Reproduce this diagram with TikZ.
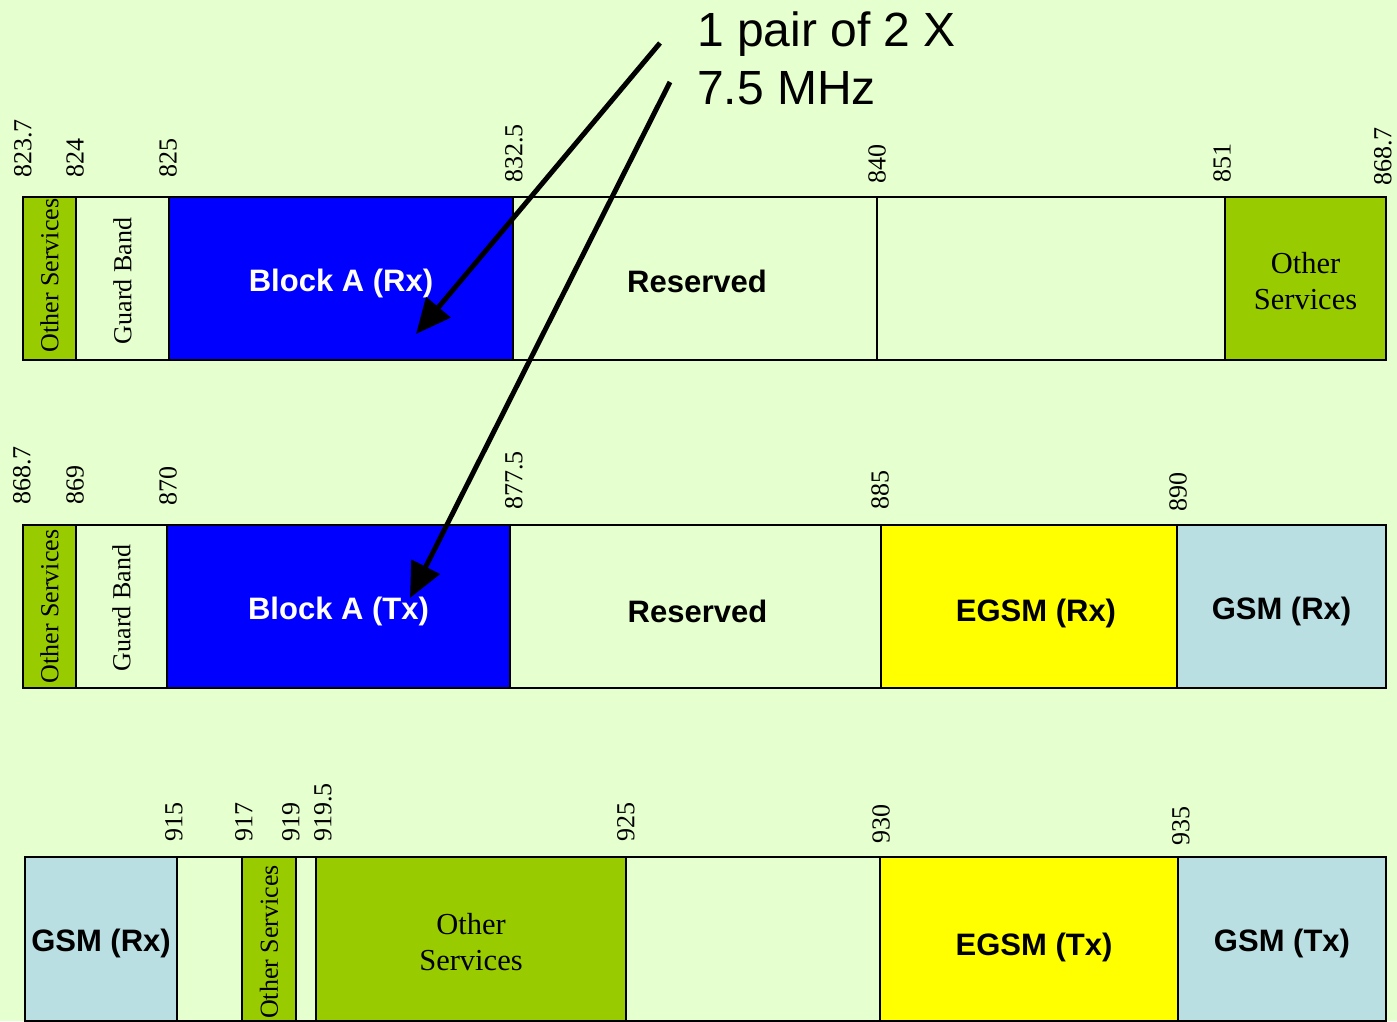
\documentclass[tikz,border=0pt]{standalone}
\usepackage{fontspec}
\setmainfont{Liberation Serif}
\newfontfamily\arialf{Liberation Sans}
\usetikzlibrary{arrows.meta}
\definecolor{bg}{HTML}{E6FFCE}
\definecolor{osgreen}{HTML}{99CC00}
\definecolor{blockblue}{HTML}{0000FF}
\definecolor{egsmyellow}{HTML}{FFFF00}
\definecolor{gsmblue}{HTML}{B9DFE3}
\begin{document}
\begin{tikzpicture}[x=1pt,y=-1pt,
  cell/.style={draw=black, line width=1.6pt, anchor=north west, inner sep=0pt, outer sep=0pt, fill=bg},
  tick/.style={rotate=90, anchor=west, inner sep=0pt, font=\fontsize{26}{26}\selectfont},
  boldlbl/.style={font=\arialf\bfseries\fontsize{31}{31}\selectfont, inner sep=0pt, anchor=base},
  whitelbl/.style={boldlbl, text=white},
  serlbl/.style={font=\fontsize{30.5}{36}\selectfont, align=center, inner sep=0pt},
  vertlbl/.style={rotate=90, font=\fontsize{26}{26}\selectfont, inner sep=0pt},
  bigarrow/.style={line width=5pt, -{Triangle[length=35pt,width=31pt]}}
]
\clip (0,0) rectangle (1397,1021);
\fill[bg] (0,0) rectangle (1397,1021);

% ---------- Row 1 ----------
\node[cell, fill=osgreen, minimum width=53, minimum height=163] (os1) at (23,197) {};
\node[cell, minimum width=93, minimum height=163] (gb1) at (76,197) {};
\node[cell, fill=blockblue, minimum width=344, minimum height=163] (ba1) at (169,197) {};
\node[cell, minimum width=364, minimum height=163] (rs1) at (513,197) {};
\node[cell, minimum width=348, minimum height=163] (em1) at (877,197) {};
\node[cell, fill=osgreen, minimum width=161, minimum height=163] (ot1) at (1225,197) {};

\node[vertlbl] (os1t) at ([yshift=3]os1.center) {Other Services};
\node[vertlbl] (gb1t) at ([yshift=-2.5]gb1.center) {Guard Band};
\node[whitelbl] (ba1t) at ([yshift=-12.5]ba1.center) {Block A (Rx)};
\node[boldlbl] (rs1t) at ([xshift=2,yshift=-13.5]rs1.center) {Reserved};
\node[serlbl] (ot1t) at ([yshift=-3]ot1.center) {Other\\Services};

\foreach \px/\py/\t [count=\i] in {23/178/823.7, 75/178/824, 168/178/825, 514/183/832.5, 877/184/840, 1222/183/851, 1383/186/868.7}
  \node[tick] (ta\i) at (\px,\py) {\t};

% ---------- Row 2 ----------
\node[cell, fill=osgreen, minimum width=53, minimum height=163] (os2) at (23,525) {};
\node[cell, minimum width=91, minimum height=163] (gb2) at (76,525) {};
\node[cell, fill=blockblue, minimum width=343, minimum height=163] (ba2) at (167,525) {};
\node[cell, minimum width=371, minimum height=163] (rs2) at (510,525) {};
\node[cell, fill=egsmyellow, minimum width=296, minimum height=163] (eg2) at (881,525) {};
\node[cell, fill=gsmblue, minimum width=209, minimum height=163] (gs2) at (1177,525) {};

\node[vertlbl] (os2t) at (os2.center) {Other Services};
\node[vertlbl] (gb2t) at ([yshift=-1.5]gb2.center) {Guard Band};
\node[whitelbl] (ba2t) at ([yshift=-12.5]ba2.center) {Block A (Tx)};
\node[boldlbl] (rs2t) at ([xshift=2,yshift=-15.5]rs2.center) {Reserved};
\node[boldlbl] (eg2t) at ([xshift=7,yshift=-14.5]eg2.center) {EGSM (Rx)};
\node[boldlbl] (gs2t) at ([yshift=-12.5]gs2.center) {GSM (Rx)};

\foreach \px/\py/\t [count=\i] in {22/505/868.7, 75/505/869, 168/506/870, 514/510/877.5, 880/510/885, 1178/512/890}
  \node[tick] (tb\i) at (\px,\py) {\t};

% ---------- Row 3 ----------
\node[cell, fill=gsmblue, minimum width=152, minimum height=164] (gs3) at (25,857) {};
\node[cell, minimum width=65, minimum height=164] (e3a) at (177,857) {};
\node[cell, fill=osgreen, minimum width=54, minimum height=164] (os3) at (242,857) {};
\node[cell, minimum width=20, minimum height=164] (e3b) at (296,857) {};
\node[cell, fill=osgreen, minimum width=310, minimum height=164] (ot3) at (316,857) {};
\node[cell, minimum width=254, minimum height=164] (e3c) at (626,857) {};
\node[cell, fill=egsmyellow, minimum width=298, minimum height=164] (eg3) at (880,857) {};
\node[cell, fill=gsmblue, minimum width=208, minimum height=164] (gt3) at (1178,857) {};

\node[boldlbl] (gs3t) at ([yshift=-12]gs3.center) {GSM (Rx)};
\node[vertlbl] (os3t) at ([yshift=-3]os3.center) {Other Services};
\node[serlbl] (ot3t) at ([yshift=-3]ot3.center) {Other\\Services};
\node[boldlbl] (eg3t) at ([xshift=5,yshift=-16]eg3.center) {EGSM (Tx)};
\node[boldlbl] (gt3t) at ([yshift=-12]gt3.center) {GSM (Tx)};

\foreach \px/\py/\t [count=\i] in {174/842/915, 244/842/917, 291/842/919, 323/842/919.5, 626/842/925, 881/844/930, 1181/846/935}
  \node[tick] (tc\i) at (\px,\py) {\t};

% ---------- Title and arrows ----------
\node[anchor=north west, align=left, inner sep=0pt, font=\arialf\fontsize{48}{58}\selectfont] (title) at (697,12) {1 pair of 2 X\\7.5 MHz};

\coordinate (s1) at (660,43);
\coordinate (t1) at (416,334);
\coordinate (s2) at (670,82);
\coordinate (t2) at (410,598);
\draw[bigarrow] (s1) -- (t1);
\draw[bigarrow] (s2) -- (t2);
\end{tikzpicture}
\end{document}
